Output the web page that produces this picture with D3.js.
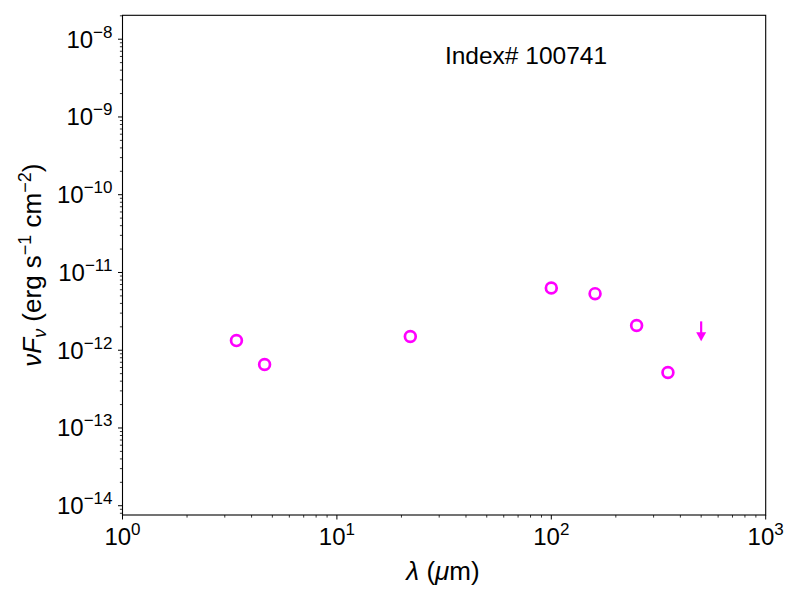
<!DOCTYPE html>
<html>
<head>
<meta charset="utf-8">
<script src="https://cdn.jsdelivr.net/npm/d3@7"></script>
<style>
  body { margin: 0; background: #fff; }
  text { font-family: "Liberation Sans", Arial, Helvetica, sans-serif; fill: #000; }
</style>
</head>
<body>
<svg id="chart"></svg>
<script>
  // Photometry (wavelength in micron, nuFnu in erg s^-1 cm^-2)
  var wavelengths = [3.4, 4.6, 22, 100, 160, 250, 350];
  var fluxes = [1.33e-12, 6.55e-13, 1.50e-12, 6.31e-12, 5.34e-12, 2.08e-12, 5.18e-13];
  // Upper limits
  var limitWavelengths = [500];
  var limitFluxes = [2.35e-12];
  var xTickExps = [0, 1, 2, 3];
  var yTickExps = [-14, -13, -12, -11, -10, -9, -8];
  var title = "Index# 100741";

  var width = 800, height = 600;
  var margin = { top: 15.3, right: 34.3, bottom: 85, left: 122.5 };
  var innerW = width - margin.left - margin.right;
  var innerH = height - margin.top - margin.bottom;
  var color = "#ff00ff";

  var x = d3.scaleLog().domain([1, 1000]).range([0, innerW]);
  var y = d3.scaleLog().domain([7.6e-15, 2.03e-8]).range([innerH, 0]);

  var svg = d3.select("#chart").attr("width", width).attr("height", height);
  var g = svg.append("g")
    .attr("transform", "translate(" + margin.left + "," + margin.top + ")");

  // minor ticks
  function minorTicks(lo, hi) {
    var out = [];
    for (var e = lo; e < hi; e++) {
      for (var m = 2; m <= 9; m++) out.push(m * Math.pow(10, e));
    }
    return out;
  }
  var xMinor = minorTicks(0, 3);
  var yMinor = minorTicks(-15, -7).filter(function (v) {
    return v >= y.domain()[0] && v <= y.domain()[1];
  });

  g.selectAll(".xminor").data(xMinor).enter().append("line")
    .attr("x1", function (d) { return x(d); }).attr("x2", function (d) { return x(d); })
    .attr("y1", innerH).attr("y2", innerH + 2.6)
    .attr("stroke", "#000").attr("stroke-width", 0.8);
  g.selectAll(".xmajor").data(xTickExps).enter().append("line")
    .attr("x1", function (d) { return x(Math.pow(10, d)); }).attr("x2", function (d) { return x(Math.pow(10, d)); })
    .attr("y1", innerH).attr("y2", innerH + 4.5)
    .attr("stroke", "#000").attr("stroke-width", 1);

  g.selectAll(".yminor").data(yMinor).enter().append("line")
    .attr("y1", function (d) { return y(d); }).attr("y2", function (d) { return y(d); })
    .attr("x1", 0).attr("x2", -2.6)
    .attr("stroke", "#000").attr("stroke-width", 0.8);
  g.selectAll(".ymajor").data(yTickExps).enter().append("line")
    .attr("y1", function (d) { return y(Math.pow(10, d)); }).attr("y2", function (d) { return y(Math.pow(10, d)); })
    .attr("x1", 0).attr("x2", -4.5)
    .attr("stroke", "#000").attr("stroke-width", 1);

  function powLabel(sel) {
    sel.append("tspan").text("10");
    sel.append("tspan").attr("dy", -10).attr("font-size", 17)
      .text(function (d) { return String(d).replace("-", "\u2212"); });
  }

  g.selectAll(".xlab").data(xTickExps).enter().append("text")
    .attr("x", function (d) { return x(Math.pow(10, d)); })
    .attr("y", innerH + 30)
    .attr("text-anchor", "middle")
    .attr("font-size", 24)
    .call(powLabel);

  g.selectAll(".ylab").data(yTickExps).enter().append("text")
    .attr("x", -10)
    .attr("y", function (d) { return y(Math.pow(10, d)) + 8.5; })
    .attr("text-anchor", "end")
    .attr("font-size", 24)
    .call(powLabel);

  // frame
  g.append("rect")
    .attr("width", innerW).attr("height", innerH)
    .attr("fill", "none").attr("stroke", "#000").attr("stroke-width", 1.1);

  // detections
  g.selectAll(".pt").data(wavelengths).enter().append("circle")
    .attr("cx", function (d) { return x(d); })
    .attr("cy", function (d, i) { return y(fluxes[i]); })
    .attr("r", 5.4)
    .attr("fill", "none")
    .attr("stroke", color)
    .attr("stroke-width", 2.7);

  // upper limits
  var lim = g.selectAll(".lim").data(limitWavelengths).enter().append("g");
  lim.append("line")
    .attr("x1", function (d) { return x(d); }).attr("x2", function (d) { return x(d); })
    .attr("y1", function (d, i) { return y(limitFluxes[i]); })
    .attr("y2", function (d, i) { return y(limitFluxes[i]) + 12; })
    .attr("stroke", color).attr("stroke-width", 2.2);
  lim.append("path")
    .attr("d", function (d, i) {
      var cx = x(d), cy = y(limitFluxes[i]);
      return "M" + (cx - 5) + "," + (cy + 11) + "L" + (cx + 5) + "," + (cy + 11) + "L" + cx + "," + (cy + 20) + "Z";
    })
    .attr("fill", color);

  // title inside axes
  g.append("text")
    .attr("x", 526 - margin.left)
    .attr("y", 64.3 - margin.top)
    .attr("text-anchor", "middle")
    .attr("font-size", 24.5)
    .text(title);

  // axis labels
  var xl = svg.append("text")
    .attr("x", 443).attr("y", 580)
    .attr("text-anchor", "middle")
    .attr("font-size", 26);
  xl.append("tspan").attr("font-style", "italic").text("\u03bb");
  xl.append("tspan").text(" (");
  xl.append("tspan").attr("font-style", "italic").text("\u03bc");
  xl.append("tspan").text("m)");

  var yl = svg.append("text")
    .attr("transform", "translate(41," + (margin.top + innerH / 2) + ") rotate(-90)")
    .attr("text-anchor", "middle")
    .attr("font-size", 26);
  yl.append("tspan").attr("font-style", "italic").text("\u03bdF");
  yl.append("tspan").attr("font-style", "italic").attr("font-size", 18).attr("dy", 5).text("\u03bd");
  yl.append("tspan").attr("dy", -5).text(" (erg s");
  yl.append("tspan").attr("font-size", 18).attr("dy", -10).text("\u22121");
  yl.append("tspan").attr("dy", 10).text(" cm");
  yl.append("tspan").attr("font-size", 18).attr("dy", -10).text("\u22122");
  yl.append("tspan").attr("dy", 10).text(")");
</script>
</body>
</html>
